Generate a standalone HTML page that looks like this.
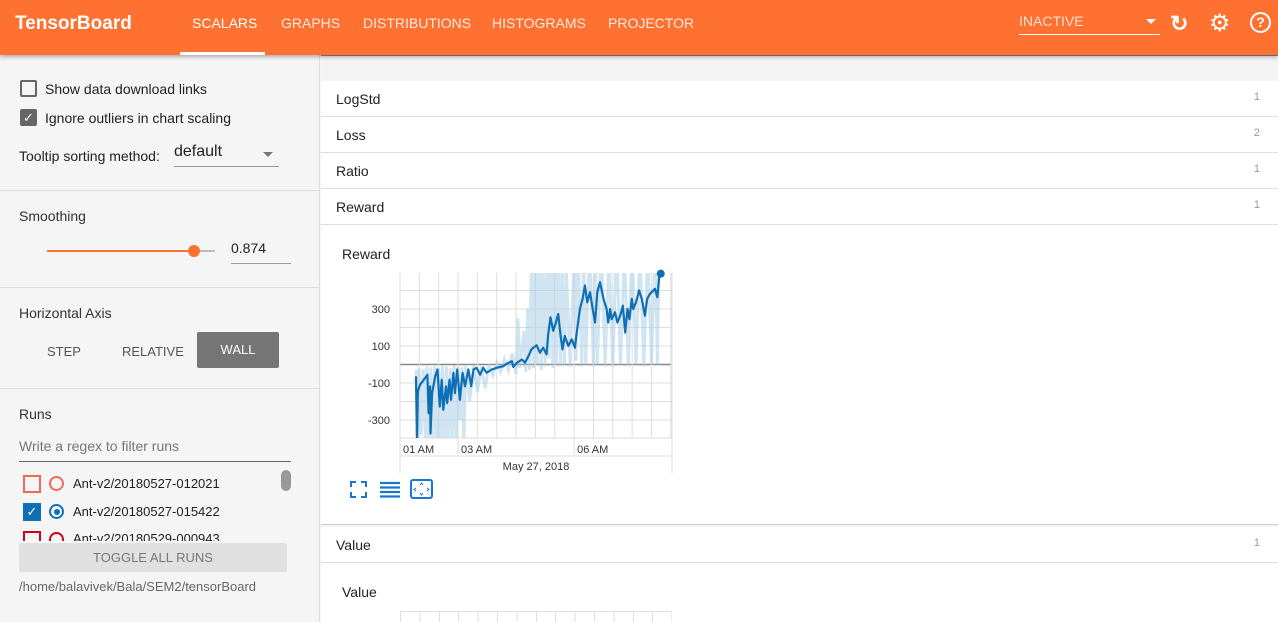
<!DOCTYPE html>
<html><head><meta charset="utf-8">
<style>
*{box-sizing:border-box}
body{margin:0;width:1278px;height:622px;overflow:hidden;font-family:"Liberation Sans",sans-serif;background:#f5f5f5;position:relative;color:#212121}
.abs{position:absolute}
#hdr{left:0;top:0;width:1278px;height:55px;background:#ff7130;box-shadow:0 2px 4px rgba(0,0,0,.3);z-index:2}
.tab{position:absolute;top:15px;color:#fff;font-size:14px;opacity:.85}
.row{position:absolute;left:321px;width:957px;height:36px;background:#fff;border-bottom:1px solid #ddd;font-size:14px}
.row span.t{position:absolute;left:15px;top:10px}
.row span.n{position:absolute;right:18px;top:10px;font-size:11px;color:#999}
.sec{position:absolute;left:19px;font-size:14px;color:#333}
.hr{position:absolute;left:0;width:320px;height:1px;background:#ddd}
</style></head><body>
<div id="hdr" class="abs">
 <div class="abs" style="left:15px;top:13px;color:#fff;font-size:19px;font-weight:bold">TensorBoard</div>
 <div class="tab" style="left:192px;opacity:1">SCALARS</div>
 <div class="abs" style="left:180px;top:52px;width:85px;height:3px;background:#fff"></div>
 <div class="tab" style="left:281px">GRAPHS</div>
 <div class="tab" style="left:363px">DISTRIBUTIONS</div>
 <div class="tab" style="left:492px">HISTOGRAMS</div>
 <div class="tab" style="left:608px">PROJECTOR</div>
 <div class="abs" style="left:1019px;top:13px;width:141px;height:22px;border-bottom:1px solid #fff;color:#ffe0d0;font-size:14px">INACTIVE<span class="abs" style="right:4px;top:6px;border:5px solid transparent;border-top-color:#fff"></span></div>
 <div class="abs" style="left:1170px;top:11px;color:#fff;font-size:22px;font-weight:bold">↻</div>
 <div class="abs" style="left:1209px;top:9px;color:#fff;font-size:24px">⚙</div>
 <div class="abs" style="left:1250px;top:12px;width:21px;height:21px;border:2px solid #fff;border-radius:50%;color:#fff;font-size:14px;text-align:center;line-height:17px;font-weight:bold">?</div>
</div>

<!-- sidebar -->
<div class="abs" style="left:0;top:55px;width:320px;height:567px;background:#f5f5f5;border-right:1px solid #ddd">
 <div class="abs" style="left:20px;top:25px;width:17px;height:17px;border:2px solid #666;border-radius:2px"></div>
 <div class="abs" style="left:45px;top:26px;font-size:14px">Show data download links</div>
 <div class="abs" style="left:20px;top:54px;width:17px;height:17px;background:#666;border-radius:2px;color:#fff;font-size:13px;text-align:center;line-height:17px">✓</div>
 <div class="abs" style="left:45px;top:55px;font-size:14px">Ignore outliers in chart scaling</div>
 <div class="abs" style="left:19px;top:93px;font-size:14px">Tooltip sorting method:</div>
 <div class="abs" style="left:174px;top:88px;width:105px;height:24px;border-bottom:1px solid #999;font-size:16px">default<span class="abs" style="right:6px;top:9px;border:5px solid transparent;border-top-color:#777"></span></div>
 <div class="hr" style="top:135px"></div>
 <div class="sec" style="top:153px">Smoothing</div>
 <div class="abs" style="left:47px;top:195px;width:148px;height:2px;background:#ff7130"></div>
 <div class="abs" style="left:195px;top:195px;width:20px;height:2px;background:#bbb"></div>
 <div class="abs" style="left:188px;top:190px;width:12px;height:12px;border-radius:50%;background:#ff7130"></div>
 <div class="abs" style="left:231px;top:185px;width:60px;height:24px;border-bottom:1px solid #999;font-size:14px">0.874</div>
 <div class="hr" style="top:232px"></div>
 <div class="sec" style="top:250px">Horizontal Axis</div>
 <div class="abs" style="left:47px;top:289px;font-size:13px;color:#555">STEP</div>
 <div class="abs" style="left:122px;top:289px;font-size:13px;color:#555">RELATIVE</div>
 <div class="abs" style="left:197px;top:277px;width:82px;height:36px;background:#757575;color:#fff;font-size:13px;text-align:center;line-height:36px;border-radius:2px">WALL</div>
 <div class="hr" style="top:333px"></div>
 <div class="sec" style="top:351px">Runs</div>
 <div class="abs" style="left:19px;top:383px;width:272px;height:24px;border-bottom:1px solid #666;font-size:14px;color:#777">Write a regex to filter runs</div>
 <div class="abs" style="left:23px;top:420px;width:18px;height:18px;border:2px solid #f4685a"></div>
 <div class="abs" style="left:49px;top:421px;width:15px;height:15px;border:2px solid #f4685a;border-radius:50%"></div>
 <div class="abs" style="left:73px;top:421px;font-size:13px">Ant-v2/20180527-012021</div>
 <div class="abs" style="left:23px;top:448px;width:18px;height:18px;background:#0f6fb5;color:#fff;font-size:13px;text-align:center;line-height:18px">✓</div>
 <div class="abs" style="left:49px;top:449px;width:15px;height:15px;border:2px solid #0f6fb5;border-radius:50%"><div class="abs" style="left:2.5px;top:2.5px;width:6px;height:6px;border-radius:50%;background:#0f6fb5"></div></div>
 <div class="abs" style="left:73px;top:449px;font-size:13px">Ant-v2/20180527-015422</div>
 <div class="abs" style="left:19px;top:472px;width:272px;height:14px;overflow:hidden">
  <div class="abs" style="left:4px;top:4px;width:18px;height:18px;border:2px solid #d0021b"></div>
  <div class="abs" style="left:30px;top:5px;width:15px;height:15px;border:2px solid #d0021b;border-radius:50%"></div>
  <div class="abs" style="left:54px;top:4px;font-size:13px">Ant-v2/20180529-000943</div>
 </div>
 <div class="abs" style="left:281px;top:415px;width:10px;height:21px;border-radius:5px;background:#999"></div>
 <div class="abs" style="left:19px;top:488px;width:268px;height:29px;background:#e0e0e0;border-radius:2px;color:#777;font-size:13px;text-align:center;line-height:29px">TOGGLE ALL RUNS</div>
 <div class="abs" style="left:19px;top:524px;font-size:13px;color:#666">/home/balavivek/Bala/SEM2/tensorBoard</div>
</div>

<!-- main -->
<div class="abs" style="left:321px;top:55px;width:957px;height:25px;background:#f3f3f3;border-top:1px solid #888"></div>
<div class="row" style="top:81px"><span class="t">LogStd</span><span class="n">1</span></div>
<div class="row" style="top:117px"><span class="t">Loss</span><span class="n">2</span></div>
<div class="row" style="top:153px"><span class="t">Ratio</span><span class="n">1</span></div>
<div class="row" style="top:189px"><span class="t">Reward</span><span class="n">1</span></div>
<div class="abs" style="left:321px;top:225px;width:957px;height:300px;background:#fff;border-bottom:1px solid #ccc">
 <div class="abs" style="left:21px;top:21px;font-size:14px">Reward</div>
</div>
<div class="row" style="top:527px"><span class="t">Value</span><span class="n">1</span></div>
<div class="abs" style="left:321px;top:563px;width:957px;height:59px;background:#fff">
 <div class="abs" style="left:21px;top:21px;font-size:14px">Value</div>
 <div class="abs" style="left:79px;top:48px;width:272px;height:11px;border-top:1px solid #ddd;background:repeating-linear-gradient(90deg,#ddd 0 1px,transparent 1px 19.4px)"></div>
</div>

<svg class="abs" style="left:0;top:0" width="1278" height="622" id="chart">
 <defs><clipPath id="pc"><rect x="400" y="273" width="272" height="165"/></clipPath></defs>
 <g id="grid"></g><g id="marks" clip-path="url(#pc)"></g><g id="axes"></g>
 <g fill="none" stroke="#1976d2" stroke-width="2"><path d="M351 487v-5h5M361 482h5v5M366 492v5h-5M356 497h-5v-5"/></g>
 <g stroke="#1976d2" stroke-width="2.2"><path d="M380 483h20M380 487.5h20M380 492h20M380 496.5h20"/></g>
 <g><rect x="411" y="480" width="21" height="18" rx="2" fill="none" stroke="#1976d2" stroke-width="2"/><path d="M420 485l1.5-2 1.5 2M420 493l1.5 2 1.5-2M416 488l-2 1.5 2 1.5M427 488l2 1.5-2 1.5" stroke="#1976d2" fill="none"/></g>
</svg>
<script>
const yTicks=[300,100,-100,-300];
const xTickHours=[1,3,6];
const xTickLabels=["01 AM","03 AM","06 AM"];
const dateLabel="May 27, 2018";
const smoothT=[1.915,1.94,1.96,2.02,2.15,2.21,2.24,2.28,2.29,2.33,2.41,2.47,2.53,2.58,2.62,2.69,2.72,2.78,2.82,2.88,2.92,2.98,3.05,3.12,3.18,3.27,3.34,3.40,3.48,3.57,3.65,3.74,3.87,4.00,4.17,4.26,4.39,4.43,4.52,4.65,4.73,4.82,4.90,5.03,5.12,5.20,5.29,5.33,5.39,5.46,5.53,5.59,5.65,5.70,5.76,5.85,5.94,6.02,6.08,6.15,6.22,6.28,6.34,6.41,6.48,6.54,6.60,6.67,6.76,6.84,6.88,6.93,6.97,7.06,7.12,7.19,7.26,7.32,7.38,7.43,7.49,7.53,7.60,7.68,7.75,7.83,7.89,7.96,8.09,8.15,8.20,8.24];
const smoothV=[-64,-420,-145,-109,-73,-55,-264,-118,-373,-155,-64,-27,-227,-82,-245,-118,-209,-82,-191,-45,-155,-27,-191,-45,-118,-27,-118,-27,-18,-55,-18,-45,-27,-18,-9,5,18,-13,9,27,9,45,82,104,64,91,55,164,255,182,227,273,155,82,155,100,136,91,191,300,355,427,336,391,300,227,391,445,355,300,227,300,245,282,227,264,318,173,300,245,355,300,336,400,355,264,355,382,409,364,473,491];
const rawT=[1.92,1.95,1.99,2.05,2.1,2.16,2.2,2.25,2.3,2.35,2.4,2.45,2.5,2.55,2.6,2.65,2.7,2.75,2.8,2.85,2.9,2.95,3.0,3.05,3.1,3.15,3.2,3.3,3.4,3.5,3.6,3.7,3.8,3.9,4.0,4.1,4.2,4.3,4.4,4.5,4.55,4.6,4.7,4.75,4.8,4.85,4.9,4.95,5.0,5.05,5.1,5.15,5.2,5.25,5.3,5.35,5.4,5.45,5.5,5.55,5.6,5.65,5.7,5.75,5.8,5.9,6.0,6.05,6.1,6.2,6.25,6.3,6.4,6.5,6.55,6.6,6.7,6.8,6.9,7.0,7.1,7.2,7.3,7.4,7.5,7.6,7.7,7.8,7.9,8.0,8.1,8.15,8.2];
const rawV=[-30,-450,-20,-380,-25,-420,-10,-450,-15,-400,-10,-450,-20,-450,-5,-450,-10,-400,-20,-450,-5,-420,-10,-300,-15,-450,-10,-200,-5,-150,-10,-130,0,-60,10,-40,30,-30,60,-50,250,-20,180,-40,300,-30,600,-20,550,0,600,-30,520,-10,600,30,650,-20,600,0,580,-10,550,0,500,-10,600,20,650,-10,600,0,650,-10,600,0,650,-10,600,-10,650,0,600,-10,650,0,620,-10,600,0,650,0,600];
const X0=400,X1=672,Y0=273,Y1=438;
const x=t=>458+(t-3)*38.7;
const y=v=>364.5-v*0.185;
const NS="http://www.w3.org/2000/svg";
function mk(tag,attrs,parent){const e=document.createElementNS(NS,tag);for(const k in attrs)e.setAttribute(k,attrs[k]);parent.appendChild(e);return e;}
const grid=document.getElementById('grid'),marks=document.getElementById('marks'),axes=document.getElementById('axes');
for(let v=-400;v<=500;v+=100){const yy=y(v);if(yy<Y0||yy>Y1)continue;const l=mk('line',{x1:X0,x2:X1,y1:yy,y2:yy,stroke:v===0?'#888':'#ddd','stroke-width':v===0?1.5:1},grid);

}
for(let h=1.5;h<=8.5;h+=0.5){const xx=x(h);if(xx<X0||xx>X1)continue;const l=mk('line',{x1:xx,x2:xx,y1:Y0,y2:Y1,stroke:'#ddd'},grid);

}
mk('line',{x1:X0,x2:X0,y1:Y0,y2:Y1+35,stroke:'#ddd'},grid);
mk('line',{x1:X1,x2:X1,y1:Y0,y2:Y1+35,stroke:'#ddd'},grid);
mk('line',{x1:X0,x2:X1,y1:Y1,y2:Y1,stroke:'#ddd'},grid);
mk('line',{x1:X0,x2:X1,y1:Y1+18,y2:Y1+18,stroke:'#ddd'},grid);
yTicks.forEach(v=>{const t=mk('text',{x:390,y:y(v)+4,'text-anchor':'end','font-size':11,fill:'#333','font-family':'Liberation Sans'},axes);t.textContent=v;

});
xTickHours.forEach((h,i)=>{let xx=Math.max(X0,x(h));mk('line',{x1:xx,x2:xx,y1:Y1,y2:Y1+18,stroke:'#ddd'},axes);const t=mk('text',{x:xx+3,y:Y1+15,'font-size':11,fill:'#333','font-family':'Liberation Sans'},axes);t.textContent=xTickLabels[i];

});
const dl=mk('text',{x:536,y:Y1+32,'text-anchor':'middle','font-size':11,fill:'#333','font-family':'Liberation Sans'},axes);dl.textContent=dateLabel;


const raw=mk('path',{d:rawT.map((t,i)=>(i?'L':'M')+x(t).toFixed(1)+' '+y(rawV[i]).toFixed(1)).join(''),fill:'none',stroke:'#a9cde6','stroke-opacity':0.55,'stroke-width':3},marks);


const sm=mk('path',{d:smoothT.map((t,i)=>(i?'L':'M')+x(t).toFixed(1)+' '+y(smoothV[i]).toFixed(1)).join(''),fill:'none',stroke:'#0f6fb5','stroke-width':2.2,'stroke-linejoin':'round'},marks);


const n=smoothT.length-1;
const dot=mk('circle',{cx:x(smoothT[n]),cy:y(smoothV[n]),r:4,fill:'#0f6fb5'},axes);


</script>
</body></html>
